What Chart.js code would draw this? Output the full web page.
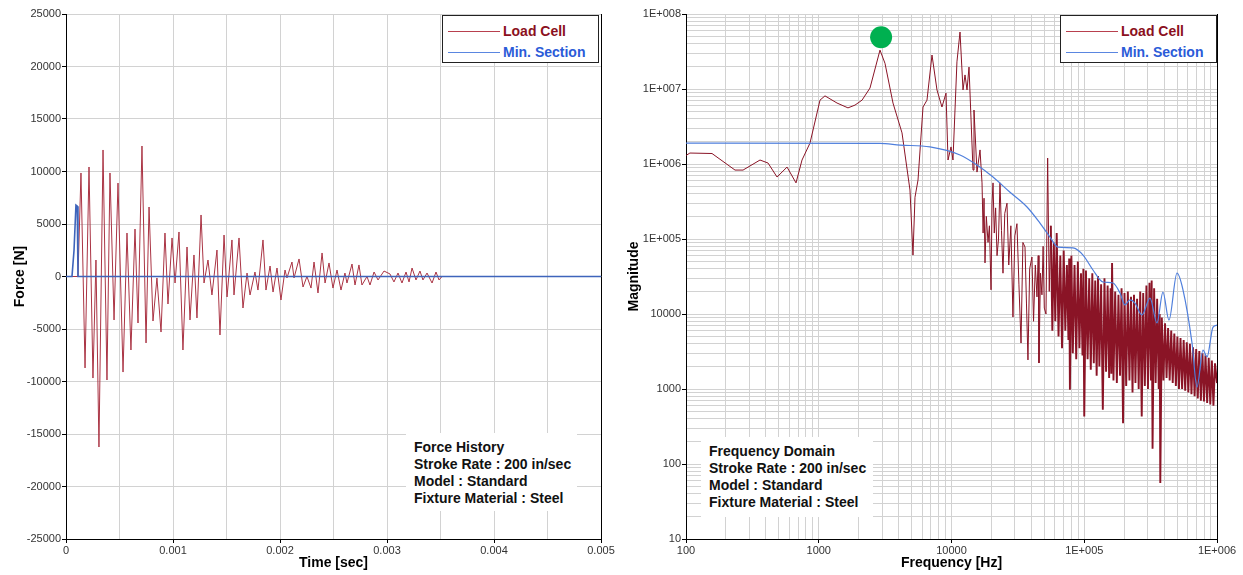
<!DOCTYPE html>
<html>
<head>
<meta charset="utf-8">
<script src="https://cdn.jsdelivr.net/npm/chart.js@4.4.1/dist/chart.umd.min.js"></script>
<style>
  body { margin: 0; background: #fff; font-family: 'Liberation Sans', Arial, sans-serif; }
  #wrap { position: relative; width: 1243px; height: 575px; overflow: hidden; }
  canvas { position: absolute; top: 0; }
  .legend { position: absolute; top: 15px; width: 155px; height: 46px; border: 1px solid #222; background: #fff; font-weight: bold; font-size: 14px; }
  .legend .row { position: absolute; left: 0; width: 100%; height: 16px; line-height: 16px; }
  .legend .swatch { position: absolute; left: 5px; top: 8px; width: 52px; height: 0; border-top: 1px solid; }
  .legend .lbl { position: absolute; left: 60px; white-space: nowrap; }
  .note { position: absolute; background: #fff; font-weight: bold; font-size: 14px; line-height: 17px; color: #111; white-space: nowrap; box-sizing: border-box; padding-left: 8px; }
</style>
</head>
<body>
<div id="wrap">
  <canvas id="force" width="621" height="575" style="left:0;width:621px;height:575px"></canvas>
  <canvas id="freq" width="622" height="575" style="left:621px;width:622px;height:575px"></canvas>

  <div class="legend" style="left:442px">
    <div class="row" style="top:7px"><span class="swatch" style="border-color:#b8404e"></span><span class="lbl" style="color:#8b1020">Load Cell</span></div>
    <div class="row" style="top:28px"><span class="swatch" style="border-color:#5a86e0"></span><span class="lbl" style="color:#2b5bd8">Min. Section</span></div>
  </div>
  <div class="legend" style="left:1060px">
    <div class="row" style="top:7px"><span class="swatch" style="border-color:#b8404e"></span><span class="lbl" style="color:#8b1020">Load Cell</span></div>
    <div class="row" style="top:28px"><span class="swatch" style="border-color:#5a86e0"></span><span class="lbl" style="color:#2b5bd8">Min. Section</span></div>
  </div>

  <div class="note" style="left:406px;top:433px;width:171px;height:78px;padding-top:6px">
    Force History<br>Stroke Rate : 200 in/sec<br>Model : Standard<br>Fixture Material : Steel
  </div>
  <div class="note" style="left:701px;top:437px;width:172px;height:80px;padding-top:6px">
    Frequency Domain<br>Stroke Rate : 200 in/sec<br>Model : Standard<br>Fixture Material : Steel
  </div>
</div>

<script>
/* ---------- force history (time in s, force in N) ---------- */
const lcTime = [
  0, 0.000047, 0.000112, 0.000140, 0.000178, 0.000215, 0.000252, 0.000280, 0.000308, 0.000346,
  0.000383, 0.000411, 0.000449, 0.000486, 0.000533, 0.000570, 0.000607, 0.000645, 0.000673, 0.000710,
  0.000748, 0.000776, 0.000813, 0.000850, 0.000888, 0.000925, 0.000953, 0.000991, 0.001019, 0.001056,
  0.001093, 0.001131, 0.001159, 0.001196, 0.001224, 0.001262, 0.001290, 0.001327, 0.001364, 0.001411,
  0.001439, 0.001477, 0.001505, 0.001551, 0.001570, 0.001617, 0.001654, 0.001692, 0.001720, 0.001766,
  0.001794, 0.001841, 0.001869, 0.001907, 0.001935, 0.001972, 0.002009, 0.002047, 0.002065, 0.002112,
  0.002131, 0.002178, 0.002215, 0.002252, 0.002290, 0.002318, 0.002355, 0.002393, 0.002421, 0.002458,
  0.002495, 0.002533, 0.002570, 0.002607, 0.002626, 0.002673, 0.002701, 0.002738, 0.002766, 0.002813,
  0.002841, 0.002879, 0.002916, 0.002972, 0.003028, 0.003065, 0.003103, 0.003140, 0.003178, 0.003206,
  0.003234, 0.003271, 0.003308, 0.003336, 0.003374, 0.003421, 0.003458, 0.003486, 0.003514, 0.005
];
const lcForce = [
  0, 0, 0, 9860, -8710, 10430, -9670, 1570, -16240, 12050,
  -9860, 9860, -4140, 8900, -9100, 4140, -7000, 4520, -4430, 12430,
  -6330, 6620, -4240, -140, -5290, 4140, -2620, 3670, -620, 4240,
  -7000, 2810, -4140, 2050, -3950, 5860, -620, 1570, -1760, 2520,
  -5570, 3950, -1950, 3480, -1760, 3670, -3000, 330, -1760, 430,
  -1290, 3480, -1290, 1000, -1480, 810, -2240, 620, -140, 1380,
  -140, 1670, -1000, 0, -1100, 1380, -1570, 2240, -620, 1290,
  -1100, 620, -1290, 330, -620, 1190, -810, 1100, -810, 0,
  -810, 430, -330, 520, 240, -520, 330, -620, 430, -520,
  810, -330, 520, -330, 330, -620, 430, -330, 0, 0
];
const msTime = [0, 0.000056, 0.000075, 0.000093, 0.000105, 0.000112, 0.005];
const msForce = [0, 0, 2500, 6800, 6700, 0, 0];

/* ---------- frequency domain (Hz, magnitude) ---------- */
const lcFreq = [
  100, 107, 157, 234, 269, 361, 415, 485, 577, 674,
  748, 859, 1022, 1114, 1373, 1660, 1875, 2118, 2432, 2893,
  3155, 3625, 4238, 4866, 5126, 5309, 5594, 6100, 6537, 7129,
  7775, 8476, 9092, 9414, 9914, 10260, 10990, 11590, 12210, 12640,
  13090, 13550, 14520, 14770, 15560, 16400, 16980, 17300, 17580, 17880,
  18300, 18840, 19300, 19850, 20200, 20550, 21000, 21500, 22030, 22600,
  23190, 23800, 24430, 25200, 26180, 27000, 28000, 29040, 30000, 31120,
  32200, 33400, 34500, 35790, 36700, 37670, 38800, 40360, 41500, 42800,
  44050, 45000, 45600, 46800, 48000, 49000, 50000, 51500, 53000, 54500,
  56000, 57500, 59000, 60500, 62000, 64000, 66000, 68000, 70000, 72000,
  74000, 76000, 77000, 78000, 80000, 82000, 84500, 87000, 89500, 92000,
  94500, 97000, 98500, 100000, 103000, 106000, 109000, 112000, 115000, 118000,
  121000, 124000, 127000, 130000, 134000, 138000, 142000, 146000, 150000, 154000,
  158000, 160000, 162000, 166000, 171000, 176000, 181000, 186000, 191000, 196000,
  201000, 207000, 213000, 219000, 225000, 231000, 237000, 243000, 250000, 257000,
  264000, 271000, 278000, 286000, 294000, 302000, 310000, 318000, 322000, 327000,
  336000, 345000, 354000, 364000, 370000, 374000, 384000, 395000, 406000, 417000,
  428000, 440000, 452000, 464000, 477000, 490000, 503000, 517000, 531000, 546000,
  561000, 576000, 592000, 608000, 625000, 642000, 660000, 678000, 697000, 716000,
  736000, 756000, 777000, 798000, 820000, 843000, 866000, 890000, 915000, 940000,
  966000, 1000000
];
const lcMag = [
  1.3e6, 1.4e6, 1.38e6, 8.3e5, 8.3e5, 1.13e6, 1.03e6, 6.7e5, 9.1e5, 5.6e5,
  1.13e6, 1.9e6, 7.1e6, 8.1e6, 6.5e6, 5.6e6, 6.1e6, 7.1e6, 1.03e7, 3.3e7,
  2.2e7, 6.5e6, 2.6e6, 4.5e5, 6.1e4, 3.6e5, 6.1e5, 5.75e6, 7.1e6, 2.84e7,
  9.7e6, 5.75e6, 8.8e6, 1.13e6, 1.69e6, 1.13e6, 2.3e7, 5.75e7, 9.7e6, 1.54e7,
  9.7e6, 1.96e7, 8.3e5, 5.25e6, 7.8e5, 1.54e6, 5.6e5, 1.2e5, 3.5e5, 4.8e4,
  2.0e5, 9.0e4, 1.5e5, 2.1e4, 3.0e5, 5.6e5, 1.2e5, 2.6e5, 6.0e4, 1.0e5,
  5.6e5, 1.3e5, 3.5e4, 2.2e5, 3.0e5, 4.5e4, 1.5e5, 9100, 1.1e5, 1.6e5,
  2.5e4, 4100, 9.0e4, 7.8e4, 1.4e4, 2440, 4.0e4, 5.75e4, 8000, 4.5e4,
  1.69e4, 6.0e4, 2220, 3.5e4, 1.8e4, 8.0e4, 1.2e4, 1.0e4, 1.2e6, 2.0e4,
  1.5e5, 6000, 9.0e4, 8000, 1.2e5, 5000, 6.0e4, 3500, 7.0e4, 6000,
  4.5e4, 4500, 5.5e4, 980, 6.0e4, 3000, 4.5e4, 2500, 5.0e4, 3500,
  3.5e4, 2800, 4.0e4, 430, 3.8e4, 2500, 3.0e4, 1800, 3.5e4, 2200,
  2.8e4, 1500, 3.2e4, 2000, 2.5e4, 530, 3.0e4, 1700, 2.4e4, 1400,
  2.2e4, 1600, 4.8e4, 1300, 2.0e4, 1200, 1.8e4, 1500, 2.2e4, 350,
  1.9e4, 1100, 2.0e4, 1300, 1.7e4, 900, 1.8e4, 1200, 1.6e4, 1000,
  2.0e4, 430, 1.9e4, 1100, 2.4e4, 1000, 2.6e4, 1300, 2.8e4, 160,
  2.2e4, 1200, 1.6e4, 1000, 1.0e4, 56, 9000, 1300, 7500, 1400,
  6500, 1300, 6000, 1200, 5500, 1100, 5000, 1000, 4800, 1000,
  4500, 950, 4200, 900, 4000, 850, 3600, 800, 3400, 750,
  3200, 700, 3000, 680, 2800, 650, 2600, 620, 2400, 600,
  2200, 1200
];
const msFreq = [
  100, 2893, 4093, 6887, 11590, 15560, 20550, 27600, 37060, 46400,
  55200, 63400, 82300, 97900, 116400, 138400, 164700, 185900, 202700, 221100,
  241000, 272300, 312800, 353000, 391600, 434700, 499800, 554300, 648300, 706500,
  784600, 841100, 933300, 1000000
];
const msMag = [
  1.9e6, 1.88e6, 1.79e6, 1.69e6, 1.32e6, 9.7e5, 6.7e5, 4.2e5, 2.67e5, 1.63e5,
  1.06e5, 7.8e4, 7.6e4, 6.1e4, 3.86e4, 2.67e4, 2.59e4, 1.9e4, 1.32e4, 1.54e4,
  1.40e4, 9700, 1.63e4, 7600, 1.96e4, 8300, 3.5e4, 2.1e4, 4100, 1060,
  3300, 2670, 6700, 7100
];
// highlighted resonance
const peakFreq = [2950];
const peakMag = [4.9e7];

/* ---------- shared styling ---------- */
const FONT = "'Liberation Sans', Arial, Helvetica, sans-serif";
const GRID = '#d2d2d2';
const pts = (xs, ys) => xs.map((x, i) => ({ x, y: ys[i] }));

function logTicks(eLo, eHi) {
  const out = [];
  for (let e = eLo; e < eHi; e++) for (let m = 1; m < 10; m++) out.push({ value: m * Math.pow(10, e) });
  out.push({ value: Math.pow(10, eHi) });
  return out;
}
const isDecade = (v) => { const e = Math.log10(v); return Math.abs(e - Math.round(e)) < 1e-9; };
const sci = (v) => { const e = Math.round(Math.log10(v)); return e < 5 ? String(Math.pow(10, e)) : '1E+00' + e; };

function axis(title, pad, tickCb, extra) {
  return Object.assign({
    border: { color: '#000', width: 1 },
    grid: { color: GRID, lineWidth: 1, tickLength: 4,
      tickColor: (c) => (c.tick && c.tick.label !== '' ? '#000' : 'rgba(0,0,0,0)') },
    ticks: { color: '#333', font: { family: FONT, size: 11 }, padding: 1, autoSkip: false, maxRotation: 0, callback: tickCb },
    title: { display: true, text: title, color: '#000', font: { family: FONT, size: 14, weight: 'bold' }, padding: pad },
  }, extra);
}

// right-hand edge of the plot frame
const frame = {
  id: 'frame',
  afterDraw(chart) {
    const { ctx, chartArea: a } = chart;
    ctx.save();
    ctx.strokeStyle = '#000';
    ctx.lineWidth = 1;
    ctx.beginPath();
    ctx.moveTo(Math.round(a.right) + 0.5, a.top);
    ctx.lineTo(Math.round(a.right) + 0.5, a.bottom);
    ctx.stroke();
    ctx.restore();
  },
};

const common = {
  animation: false, responsive: false, events: [],
  plugins: { legend: { display: false }, tooltip: { enabled: false } },
};

/* ---------- left: force history ---------- */
new Chart(document.getElementById('force'), {
  type: 'line',
  data: { datasets: [
    { label: 'Min. Section', data: pts(msTime, msForce), borderColor: '#3e64bb', borderWidth: 1.6, pointRadius: 0 },
    { label: 'Load Cell', data: pts(lcTime, lcForce), borderColor: '#aa3444', borderWidth: 1, pointRadius: 0 },
  ] },
  options: Object.assign({}, common, {
    layout: { padding: { top: 14, right: 20, left: 0, bottom: 0 } },
    scales: {
      // grid every 0.5 ms, labels every 1 ms
      x: axis('Time [sec]', { bottom: 3.5 }, (v, i) => (i % 2 ? '' : String(Number(v.toFixed(4)))), {
        type: 'linear', min: 0, max: 0.005,
        afterBuildTicks: (s) => { s.ticks = [0, 5, 10, 15, 20, 25, 30, 35, 40, 45, 50].map((v) => ({ value: v / 10000 })); },
        afterFit: (s) => { s.height = 36; },
      }),
      y: axis('Force [N]', { top: 11.5 }, (v) => String(v), {
        type: 'linear', min: -25000, max: 25000,
        afterBuildTicks: (s) => { s.ticks = [-25, -20, -15, -10, -5, 0, 5, 10, 15, 20, 25].map((v) => ({ value: v * 1000 })); },
        afterFit: (s) => { s.width = 66; },
      }),
    },
  }),
  plugins: [frame],
});

/* ---------- right: frequency domain ---------- */
const decadeLabel = (v) => (isDecade(v) ? sci(v) : '');
new Chart(document.getElementById('freq'), {
  type: 'line',
  data: { datasets: [
    { label: 'peak', data: pts(peakFreq, peakMag), showLine: false, pointRadius: 11, pointBackgroundColor: '#00b050', pointBorderWidth: 0 },
    { label: 'Min. Section', data: pts(msFreq, msMag), borderColor: '#4f7fdc', borderWidth: 1.2, pointRadius: 0, cubicInterpolationMode: 'monotone' },
    { label: 'Load Cell', data: pts(lcFreq, lcMag), borderColor: '#8a1426', borderWidth: 1, pointRadius: 0,
      // thicker stroke where the spectrum gets dense so the band reads as solid
      segment: { borderWidth: (c) => (c.p0.parsed.x > 55000 ? 1.9 : 1) } },
  ] },
  options: Object.assign({}, common, {
    layout: { padding: { top: 14, right: 26, left: 0, bottom: 0 } },
    scales: {
      x: axis('Frequency [Hz]', { bottom: 3.5 }, decadeLabel, {
        type: 'logarithmic', min: 100, max: 1e6,
        afterBuildTicks: (s) => { s.ticks = logTicks(2, 6); },
        afterFit: (s) => { s.height = 36; },
      }),
      y: axis('Magnitude', { top: 4.5 }, decadeLabel, {
        type: 'logarithmic', min: 10, max: 1e8,
        afterBuildTicks: (s) => { s.ticks = logTicks(1, 8); },
        afterFit: (s) => { s.width = 65; },
      }),
    },
  }),
  plugins: [frame],
});
</script>
</body>
</html>
